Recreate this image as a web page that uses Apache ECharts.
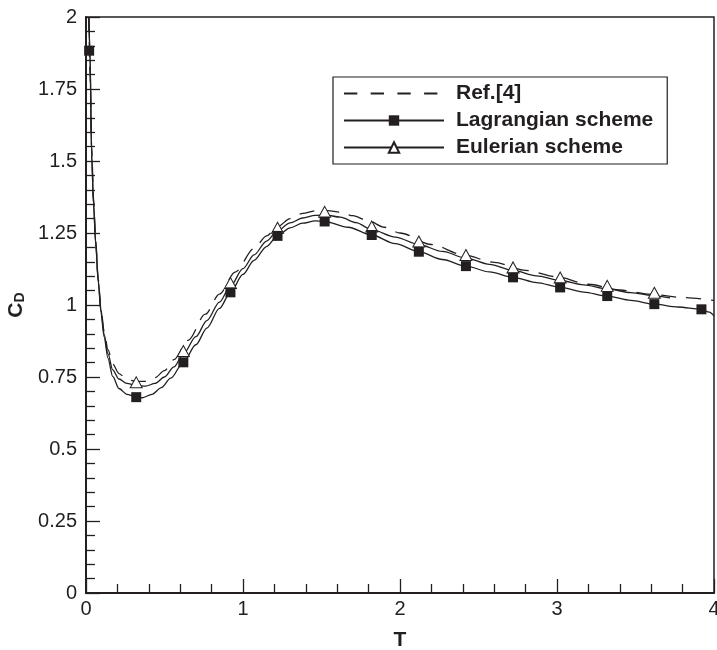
<!DOCTYPE html>
<html>
<head>
<meta charset="utf-8">
<script src="https://cdn.jsdelivr.net/npm/echarts@6/dist/echarts.min.js"></script>
<style>
  html, body { margin: 0; padding: 0; background: #fff; }
  #chart { width: 717px; height: 650px; }
</style>
</head>
<body>
<div id="chart"></div>
<script>
// Drag coefficient history C_D(T)
const refT  = [0.018, 0.026, 0.036, 0.048, 0.062, 0.078, 0.095, 0.115, 0.14, 0.17, 0.21, 0.26, 0.32, 0.38, 0.44, 0.50, 0.56, 0.65, 0.76, 0.85, 0.95, 1.07, 1.15, 1.22, 1.30, 1.38, 1.46, 1.54, 1.62, 1.70, 1.80, 1.90, 2.00, 2.20, 2.40, 2.60, 2.80, 3.00, 3.20, 3.40, 3.60, 3.80, 4.00];
const refCD = [2.00, 1.80, 1.55, 1.37, 1.22, 1.09, 0.99, 0.91, 0.845, 0.795, 0.762, 0.742, 0.734, 0.735, 0.748, 0.772, 0.81, 0.877, 0.968, 1.038, 1.114, 1.196, 1.24, 1.272, 1.30, 1.318, 1.327, 1.328, 1.322, 1.31, 1.292, 1.27, 1.25, 1.21, 1.175, 1.148, 1.12, 1.098, 1.072, 1.052, 1.037, 1.026, 1.016];

const lagT  = [0.018, 0.025, 0.036, 0.048, 0.062, 0.078, 0.095, 0.115, 0.14, 0.17, 0.21, 0.26, 0.32, 0.36, 0.42, 0.48, 0.54, 0.62, 0.70, 0.77, 0.85, 0.92, 1.00, 1.07, 1.15, 1.22, 1.30, 1.38, 1.46, 1.52, 1.67, 1.82, 1.97, 2.12, 2.27, 2.42, 2.57, 2.72, 2.87, 3.02, 3.17, 3.32, 3.47, 3.62, 3.77, 3.92, 3.97, 4.00];
const lagCD = [2.00, 1.883, 1.52, 1.35, 1.21, 1.08, 0.975, 0.89, 0.815, 0.752, 0.710, 0.690, 0.680, 0.678, 0.690, 0.713, 0.746, 0.801, 0.862, 0.920, 0.988, 1.044, 1.106, 1.155, 1.203, 1.240, 1.268, 1.284, 1.292, 1.290, 1.270, 1.243, 1.213, 1.185, 1.158, 1.135, 1.115, 1.096, 1.078, 1.061, 1.045, 1.031, 1.016, 1.003, 0.993, 0.985, 0.975, 0.962];

const eulT  = [0.018, 0.025, 0.036, 0.048, 0.062, 0.078, 0.095, 0.115, 0.14, 0.17, 0.21, 0.26, 0.32, 0.38, 0.44, 0.50, 0.56, 0.62, 0.70, 0.77, 0.85, 0.92, 1.00, 1.07, 1.15, 1.22, 1.30, 1.38, 1.46, 1.52, 1.62, 1.72, 1.82, 1.97, 2.12, 2.27, 2.42, 2.57, 2.72, 2.87, 3.02, 3.17, 3.32, 3.47, 3.62, 3.72];
const eulCD = [2.00, 1.88, 1.52, 1.35, 1.215, 1.085, 0.985, 0.90, 0.83, 0.775, 0.743, 0.728, 0.721, 0.718, 0.728, 0.750, 0.785, 0.830, 0.890, 0.946, 1.010, 1.066, 1.126, 1.174, 1.222, 1.258, 1.285, 1.302, 1.311, 1.313, 1.305, 1.286, 1.262, 1.236, 1.21, 1.186, 1.163, 1.141, 1.12, 1.101, 1.085, 1.07, 1.056, 1.043, 1.032, 1.025];

// Sampled output instants (markers)
const lagMarkT  = [0.02, 0.32, 0.62, 0.92, 1.22, 1.52, 1.82, 2.12, 2.42, 2.72, 3.02, 3.32, 3.62, 3.92];
const lagMarkCD = [1.883, 0.680, 0.801, 1.044, 1.240, 1.290, 1.243, 1.185, 1.135, 1.096, 1.061, 1.031, 1.003, 0.985];
const eulMarkT  = [0.32, 0.62, 0.92, 1.22, 1.52, 1.82, 2.12, 2.42, 2.72, 3.02, 3.32, 3.62];
const eulMarkCD = [0.721, 0.830, 1.066, 1.258, 1.313, 1.262, 1.21, 1.163, 1.12, 1.085, 1.056, 1.032];

const pairs = (xs, ys) => xs.map((x, i) => [x, ys[i]]);

const INK = '#231f20';
const FONT = '"Liberation Sans", Arial, Helvetica, sans-serif';

const chart = echarts.init(document.getElementById('chart'), null, { renderer: 'canvas' });

chart.setOption({
  animation: false,
  backgroundColor: '#fff',
  grid: {
    left: 86, right: 3, top: 17, bottom: 57,
    outerBoundsMode: 'none', containLabel: false,
    show: true, borderColor: INK, borderWidth: 1.5, backgroundColor: 'transparent'
  },
  legend: {
    orient: 'vertical',
    left: 333, top: 77,
    align: 'left',
    backgroundColor: '#fff',
    borderColor: INK, borderWidth: 1.2, borderRadius: 0,
    padding: [6, 14, 6, 10],
    itemWidth: 100, itemHeight: 13, itemGap: 6,
    selectedMode: false,
    textStyle: { fontFamily: FONT, fontSize: 21, fontWeight: 'bold', color: INK, lineHeight: 21, padding: [0, 0, 0, 7] },
    data: [
      { name: 'Ref.[4]', lineStyle: { type: [13.3, 13.4] }, itemStyle: { opacity: 0 } },
      { name: 'Lagrangian scheme' },
      { name: 'Eulerian scheme' }
    ]
  },
  xAxis: {
    type: 'value', min: 0, max: 4, interval: 1,
    name: 'T', nameLocation: 'middle', nameGap: 37,
    nameTextStyle: { fontFamily: FONT, fontSize: 21, fontWeight: 'bold', color: INK },
    axisLine: { lineStyle: { color: INK, width: 2 } },
    axisTick: { inside: true, length: 14, lineStyle: { color: INK, width: 1.3 } },
    minorTick: { show: true, splitNumber: 5, length: 9, lineStyle: { color: INK, width: 1.3 } },
    splitLine: { show: false },
    axisLabel: { fontFamily: FONT, fontSize: 20, color: INK, margin: 6 }
  },
  yAxis: {
    type: 'value', min: 0, max: 2, interval: 0.25,
    name: '{c|C}{d|D}', nameLocation: 'middle', nameGap: 53, nameRotate: 90,
    nameTextStyle: {
      rich: {
        c: { fontFamily: FONT, fontSize: 21, fontWeight: 'bold', color: INK, verticalAlign: 'bottom', lineHeight: 24 },
        d: { fontFamily: FONT, fontSize: 14, fontWeight: 'bold', color: INK, verticalAlign: 'bottom', lineHeight: 18 }
      }
    },
    axisLine: { lineStyle: { color: INK, width: 2 } },
    axisTick: { inside: true, length: 14, lineStyle: { color: INK, width: 1.3 } },
    minorTick: { show: true, splitNumber: 5, length: 9, lineStyle: { color: INK, width: 1.3 } },
    splitLine: { show: false },
    axisLabel: { fontFamily: FONT, fontSize: 20, color: INK, margin: 9 }
  },
  series: [
    {
      name: 'Ref.[4]', type: 'line', data: pairs(refT, refCD),
      smooth: 0.3, smoothMonotone: 'x', symbol: 'none', showSymbol: false,
      lineStyle: { color: INK, width: 1.3, type: [15, 10] },
      itemStyle: { color: INK }, z: 2
    },
    {
      name: 'Lagrangian scheme', type: 'line', data: pairs(lagT, lagCD),
      smooth: 0.3, smoothMonotone: 'x', symbol: 'rect', symbolSize: 10, showSymbol: false,
      lineStyle: { color: INK, width: 1.3 },
      itemStyle: { color: INK }, z: 3
    },
    {
      name: 'Lagrangian scheme', type: 'scatter', data: pairs(lagMarkT, lagMarkCD),
      symbol: 'rect', symbolSize: 10,
      itemStyle: { color: INK, opacity: 1 }, z: 5
    },
    {
      name: 'Eulerian scheme', type: 'line', data: pairs(eulT, eulCD),
      smooth: 0.3, smoothMonotone: 'x', symbol: 'triangle', symbolSize: 12, showSymbol: false,
      lineStyle: { color: INK, width: 1.3 },
      itemStyle: { color: '#fff', borderColor: INK, borderWidth: 1 }, z: 3
    },
    {
      name: 'Eulerian scheme', type: 'scatter', data: pairs(eulMarkT, eulMarkCD),
      symbol: 'triangle', symbolSize: [12, 11], symbolOffset: [0, -3],
      itemStyle: { color: '#fff', borderColor: INK, borderWidth: 1, opacity: 1 }, z: 4
    }
  ]
});
</script>
</body>
</html>
